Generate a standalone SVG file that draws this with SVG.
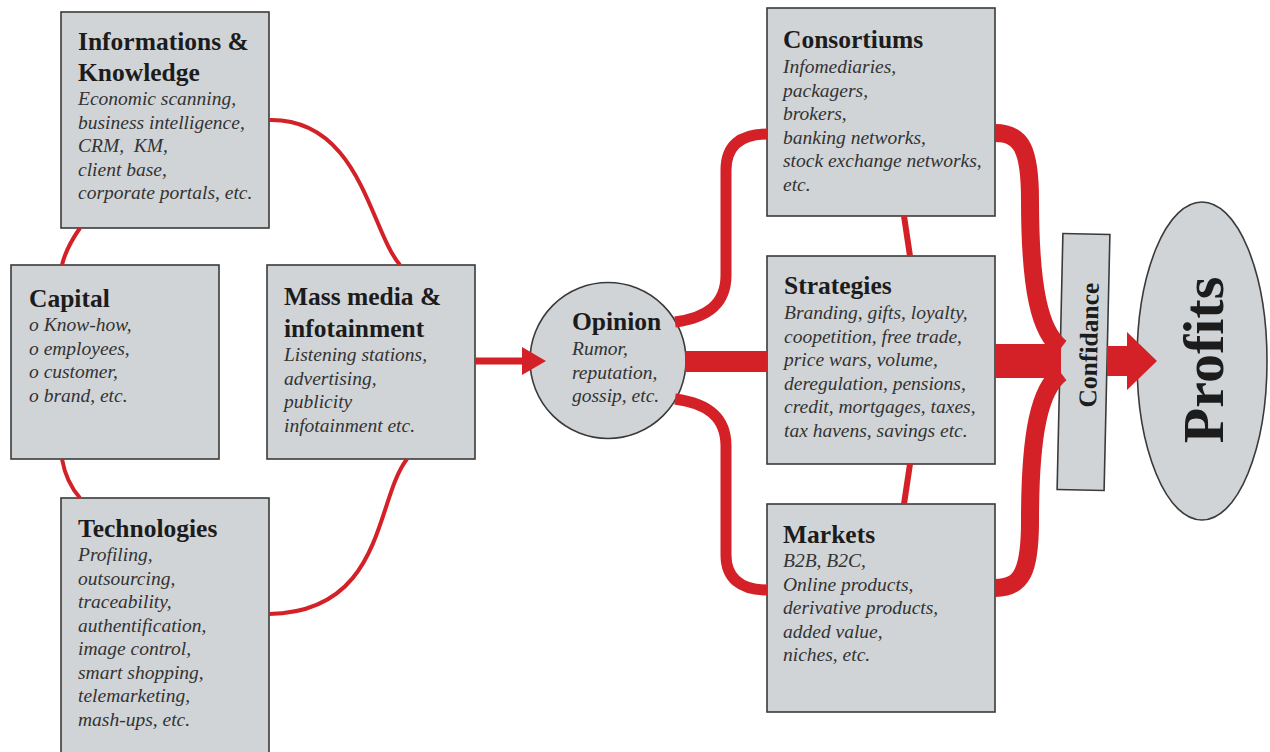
<svg xmlns="http://www.w3.org/2000/svg" width="1270" height="752" viewBox="0 0 1270 752">
<style>
.box{fill:#d1d4d6;stroke:#3a3a3a;stroke-width:1.6}
.t{font-family:"Liberation Serif","Times New Roman",serif;font-weight:bold;font-size:25.5px;fill:#1c1c1c}
.b{font-family:"Liberation Serif","Times New Roman",serif;font-style:italic;font-size:19.5px;fill:#333}
.thin{fill:none;stroke:#d42027;stroke-width:4}
.mid{fill:none;stroke:#d42027;stroke-width:11}
.thick{fill:none;stroke:#d42027;stroke-width:18}
.red{fill:#d42027}
</style>
<rect width="1270" height="752" fill="#fff"/>
<g id="n-info">
<rect class="box" x="61" y="12" width="208" height="216"/>
<text class="t" x="78" y="50">Informations &amp;<tspan x="78" dy="30.5">Knowledge</tspan></text>
<text class="b" x="78" y="105">Economic scanning,<tspan x="78" dy="23.5">business intelligence,</tspan><tspan x="78" dy="23.5">CRM,&#160; KM,</tspan><tspan x="78" dy="23.5">client base,</tspan><tspan x="78" dy="23.5">corporate portals, etc.</tspan></text>
</g>
<g id="n-capital">
<rect class="box" x="11" y="265" width="208" height="194"/>
<text class="t" x="29" y="307">Capital</text>
<text class="b" x="29" y="331">o Know-how,<tspan x="29" dy="23.7">o employees,</tspan><tspan x="29" dy="23.7">o customer,</tspan><tspan x="29" dy="23.7">o brand, etc.</tspan></text>
</g>
<g id="n-mass">
<rect class="box" x="267" y="265" width="208" height="194"/>
<text class="t" x="284" y="305">Mass media &amp;<tspan x="284" dy="31.5">infotainment</tspan></text>
<text class="b" x="284" y="361">Listening stations,<tspan x="284" dy="23.5">advertising,</tspan><tspan x="284" dy="23.5">publicity</tspan><tspan x="284" dy="23.5">infotainment etc.</tspan></text>
</g>
<g id="n-tech">
<rect class="box" x="61" y="498" width="208" height="270"/>
<text class="t" x="78" y="537">Technologies</text>
<text class="b" x="78" y="561">Profiling,<tspan x="78" dy="23.5">outsourcing,</tspan><tspan x="78" dy="23.5">traceability,</tspan><tspan x="78" dy="23.5">authentification,</tspan><tspan x="78" dy="23.5">image control,</tspan><tspan x="78" dy="23.5">smart shopping,</tspan><tspan x="78" dy="23.5">telemarketing,</tspan><tspan x="78" dy="23.5">mash-ups, etc.</tspan></text>
</g>
<g id="n-opinion">
<ellipse class="box" cx="608" cy="360.5" rx="78" ry="78"/>
<text class="t" x="572" y="330">Opinion</text>
<text class="b" x="572" y="355">Rumor,<tspan x="572" dy="23.5">reputation,</tspan><tspan x="572" dy="23.5">gossip, etc.</tspan></text>
</g>
<g id="n-consortiums">
<rect class="box" x="767" y="8" width="228" height="208"/>
<text class="t" x="783" y="48">Consortiums</text>
<text class="b" x="783" y="73">Infomediaries,<tspan x="783" dy="23.5">packagers,</tspan><tspan x="783" dy="23.5">brokers,</tspan><tspan x="783" dy="23.5">banking networks,</tspan><tspan x="783" dy="23.5">stock exchange networks,</tspan><tspan x="783" dy="23.5">etc.</tspan></text>
</g>
<g id="n-strategies">
<rect class="box" x="767" y="256" width="228" height="208"/>
<text class="t" x="784" y="294">Strategies</text>
<text class="b" x="784" y="319">Branding, gifts, loyalty,<tspan x="784" dy="23.5">coopetition, free trade,</tspan><tspan x="784" dy="23.5">price wars, volume,</tspan><tspan x="784" dy="23.5">deregulation, pensions,</tspan><tspan x="784" dy="23.5">credit, mortgages, taxes,</tspan><tspan x="784" dy="23.5">tax havens, savings etc.</tspan></text>
</g>
<g id="n-markets">
<rect class="box" x="767" y="504" width="228" height="208"/>
<text class="t" x="783" y="543">Markets</text>
<text class="b" x="783" y="567">B2B, B2C,<tspan x="783" dy="23.5">Online products,</tspan><tspan x="783" dy="23.5">derivative products,</tspan><tspan x="783" dy="23.5">added value,</tspan><tspan x="783" dy="23.5">niches, etc.</tspan></text>
</g>
<g id="n-confidance" transform="rotate(1.3 1084 362)">
<rect class="box" x="1060" y="234" width="47" height="256"/>
<text class="t" x="0" y="0" text-anchor="middle" font-size="26" transform="translate(1097 345) rotate(-90)">Confidance</text>
</g>
<g id="n-profits">
<ellipse class="box" cx="1202" cy="361" rx="65" ry="159"/>
<text class="t" x="0" y="0" text-anchor="middle" style="font-size:58px" transform="translate(1223 360) rotate(-90)">Profits</text>
</g>
<g id="connectors">
<path class="thin" d="M269,120 C360,118 370,230 400,265"/>
<path class="thin" d="M80,228 Q66,248 62,265"/>
<path class="thin" d="M62,459 Q66,482 80,498"/>
<path class="thin" d="M407,459 C375,500 385,612 269,614"/>
<line x1="475" y1="361" x2="525" y2="361" stroke="#d42027" stroke-width="7"/>
<polygon class="red" points="522,347 546,361 522,375"/>
<path class="mid" d="M675,322 C706,318 726,305 726,275 L726,170 C726,146 740,134 767,134"/>
<path class="mid" d="M675,399 C706,403 726,416 726,446 L726,555 C726,578 740,590 767,590"/>
<rect class="red" x="685" y="351" width="82" height="21"/>
<line x1="904" y1="216" x2="910" y2="256" stroke="#d42027" stroke-width="6"/>
<line x1="910" y1="464" x2="904" y2="504" stroke="#d42027" stroke-width="6"/>
<path class="thick" d="M995,133 C1022,133 1030,150 1030,200 C1030,290 1040,332 1061,348"/>
<path class="thick" d="M995,588 C1022,588 1030,571 1030,521 C1030,431 1040,389 1061,373"/>
<rect class="red" x="995" y="344" width="66" height="34"/>
<rect class="red" x="1107" y="346" width="22" height="30"/>
<polygon class="red" points="1127,332 1157,361 1127,390"/>
</g>
</svg>
